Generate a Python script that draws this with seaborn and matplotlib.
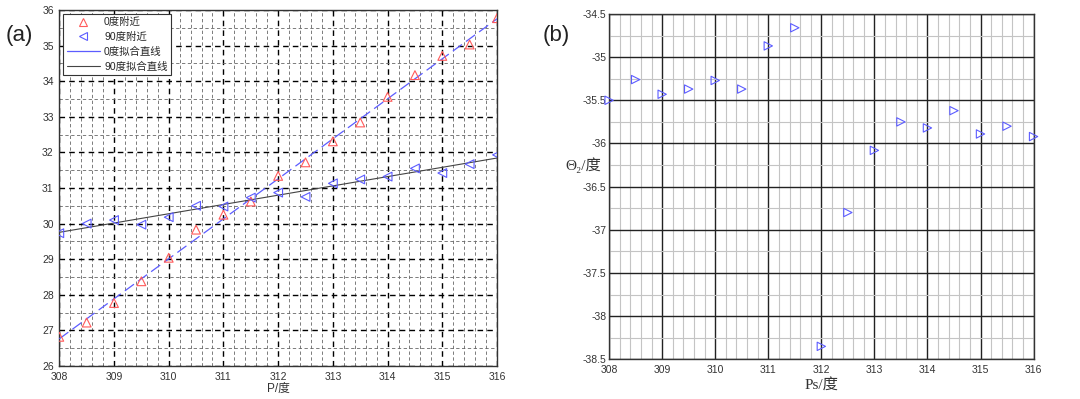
import numpy as np
import pandas as pd
import seaborn as sns
import matplotlib
matplotlib.use("Agg")
import matplotlib.pyplot as plt
from matplotlib.ticker import MultipleLocator, FormatStrFormatter
from matplotlib.lines import Line2D

# angle grid shared by both panels
p_deg = [308, 308.5, 309, 309.5, 310, 310.5, 311, 311.5, 312,
         312.5, 313, 313.5, 314, 314.5, 315, 315.5, 316]

# (a) near 0 degrees / near 90 degrees
near0 = [26.82, 27.22, 27.77, 28.38, 29.04, 29.83, 30.25, 30.62, 31.34,
         31.72, 32.31, 32.84, 33.56, 34.17, 34.71, 35.03, 35.77]
near90 = [29.73, 30.00, 30.10, 29.97, 30.18, 30.50, 30.48, 30.73, 30.87,
          30.75, 31.13, 31.24, 31.32, 31.55, 31.42, 31.67, 31.93]

# (b) theta2
theta2 = [-35.50, -35.26, -35.43, -35.37, -35.27, -35.37, -34.87, -34.66, -38.35,
          -36.80, -36.08, -35.75, -35.82, -35.62, -35.89, -35.80, -35.92]

legend_labels = ["0度附近", "90度附近", "0度拟合直线", "90度拟合直线"]

df = pd.DataFrame({"P": p_deg, "near0": near0, "near90": near90, "theta2": theta2})

sns.set_style("white")
plt.rcParams["font.family"] = ["Liberation Sans", "Noto Sans CJK SC", "DejaVu Sans"]
plt.rcParams["axes.unicode_minus"] = False

red = "#ff5a5a"
blue = "#5c5cff"
serif = ["Liberation Serif", "DejaVu Serif", "Noto Sans CJK SC"]

fig = plt.figure(figsize=(10.8, 3.99), dpi=100)
ax1 = fig.add_axes([0.0549, 0.0827, 0.4053, 0.8923])
ax2 = fig.add_axes([0.564, 0.0995, 0.393, 0.8655])

# ---- panel (a)
sns.regplot(data=df, x="P", y="near0", ax=ax1, ci=None, scatter=False, truncate=True,
            line_kws={"color": blue, "lw": 0.9, "ls": (0, (9, 4)), "zorder": 3})
sns.regplot(data=df, x="P", y="near90", ax=ax1, ci=None, scatter=False, truncate=True,
            line_kws={"color": "#444444", "lw": 0.8, "zorder": 3})
sns.scatterplot(data=df, x="P", y="near0", ax=ax1, marker="^", s=40,
                facecolors="none", edgecolor=red, linewidth=0.8, zorder=4)
sns.scatterplot(data=df, x="P", y="near90", ax=ax1, marker="<", s=40,
                facecolors="none", edgecolor=blue, linewidth=0.8, zorder=4)

ax1.set_xlim(308, 316)
ax1.set_ylim(26, 36)
ax1.xaxis.set_major_locator(MultipleLocator(1))
ax1.xaxis.set_minor_locator(MultipleLocator(0.2))
ax1.yaxis.set_major_locator(MultipleLocator(1))
ax1.yaxis.set_minor_locator(MultipleLocator(0.5))
ax1.grid(which="major", color="black", ls=(0, (4, 3)), lw=1.0)
ax1.grid(which="minor", color="#666666", ls=(0, (4, 3)), lw=0.6)
ax1.set_axisbelow(True)
ax1.tick_params(which="both", length=0, labelsize=7.5, colors="#333333", pad=4)
ax1.set_xlabel("P/度", fontsize=8.5, color="#333333", labelpad=1)
ax1.set_ylabel("")
for s in ax1.spines.values():
    s.set_color("#333333")
    s.set_linewidth(1.0)

handles = [
    Line2D([], [], ls="none", marker="^", mfc="none", mec=red, ms=6, mew=0.8),
    Line2D([], [], ls="none", marker="<", mfc="none", mec=blue, ms=6, mew=0.8),
    Line2D([], [], color=blue, lw=0.9),
    Line2D([], [], color="#444444", lw=0.8),
]
leg = ax1.legend(handles, legend_labels, loc="upper left", fontsize=7.5,
                 frameon=True, fancybox=False, edgecolor="#333333",
                 framealpha=1, borderpad=0.35, labelspacing=0.45,
                 handlelength=3.2, handletextpad=0.4, borderaxespad=0.35)
leg.get_frame().set_linewidth(0.8)
leg.set_zorder(10)

# ---- panel (b)
sns.scatterplot(data=df, x="P", y="theta2", ax=ax2, marker=">", s=36,
                facecolors="none", edgecolor=blue, linewidth=0.8, zorder=4,
                clip_on=False)
ax2.set_xlim(308, 316)
ax2.set_ylim(-38.5, -34.5)
ax2.xaxis.set_major_locator(MultipleLocator(1))
ax2.xaxis.set_minor_locator(MultipleLocator(0.2))
ax2.yaxis.set_major_locator(MultipleLocator(0.5))
ax2.yaxis.set_minor_locator(MultipleLocator(0.25))
ax2.yaxis.set_major_formatter(FormatStrFormatter("%g"))
ax2.grid(which="major", color="#222222", ls="-", lw=1.0)
ax2.grid(which="minor", color="#c4c4c4", ls="-", lw=0.8)
ax2.set_axisbelow(True)
ax2.tick_params(which="both", length=0, labelsize=7.5, colors="#333333")
ax2.tick_params(axis="x", pad=4)
ax2.tick_params(axis="y", pad=2)
ax2.set_xlabel("Ps/度", fontsize=11, family=serif, color="#333333", labelpad=2)
ax2.set_ylabel("Θ₂/度", fontsize=11, family=serif,
               color="#333333", rotation=0, labelpad=6)
ax2.yaxis.set_label_coords(-0.06, 0.54)
for s in ax2.spines.values():
    s.set_color("#333333")
    s.set_linewidth(1.0)

fig.text(0.005, 0.91, "(a)", fontsize=16, color="#222222", va="center")
fig.text(0.502, 0.91, "(b)", fontsize=16, color="#222222", va="center")

fig.savefig("out.png", dpi=100)
